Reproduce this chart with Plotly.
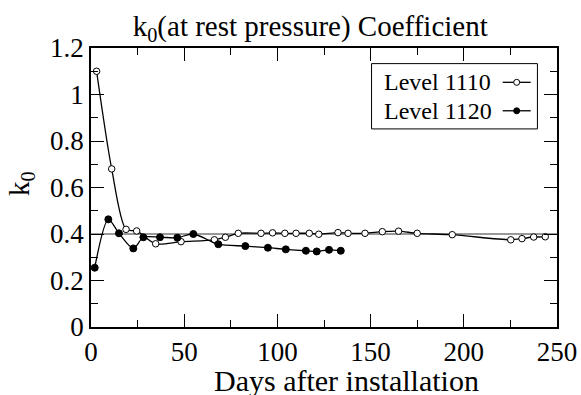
import plotly.graph_objects as go

# ---- data ----
days_1110 = [3.0, 11.1, 18.8, 24.5, 34.7, 48.3, 66.2, 72.1, 79.0, 91.2, 97.4, 104.0,
             110.0, 117.1, 122.2, 132.5, 137.9, 147.0, 156.3, 165.0, 175.0, 193.8,
             225.2, 231.2, 237.5, 243.7]
k0_1110 = [1.10, 0.68, 0.42, 0.413, 0.358, 0.367, 0.375, 0.386, 0.403, 0.403, 0.405, 0.403,
           0.403, 0.403, 0.399, 0.406, 0.403, 0.403, 0.410, 0.412, 0.403, 0.397,
           0.375, 0.380, 0.387, 0.388]

days_1120 = [2.0, 9.3, 15.0, 22.7, 28.1, 37.0, 46.3, 54.9, 68.3, 82.8, 94.9, 104.5,
             115.3, 121.1, 127.7, 134.0]
k0_1120 = [0.255, 0.463, 0.403, 0.338, 0.386, 0.386, 0.384, 0.400, 0.356, 0.348, 0.341, 0.334,
           0.328, 0.325, 0.332, 0.328]

series_names = ["Level 1110", "Level 1120"]
reference_k0 = 0.4
x_ticks = [0, 50, 100, 150, 200, 250]
y_ticks = [0, 0.2, 0.4, 0.6, 0.8, 1.0, 1.2]
y_tick_labels = ["0", "0.2", "0.4", "0.6", "0.8", "1", "1.2"]
x_title = "Days after installation"
y_title = "k<sub>0</sub>"
chart_title = "k<sub>0</sub>(at rest pressure) Coefficient"

FONT = "Liberation Serif"

fig = go.Figure()

fig.add_trace(go.Scatter(
    x=days_1110, y=k0_1110, mode="lines+markers", name=series_names[0],
    line=dict(color="black", width=1.3, shape="spline", smoothing=0.8),
    marker=dict(symbol="circle", size=6.5, color="white", line=dict(color="black", width=1)),
    showlegend=False,
))
fig.add_trace(go.Scatter(
    x=days_1120, y=k0_1120, mode="lines+markers", name=series_names[1],
    line=dict(color="black", width=1.3, shape="spline", smoothing=0.8),
    marker=dict(symbol="circle", size=7, color="black", line=dict(color="black", width=1)),
    showlegend=False,
))

# reference line at k0 = 0.4
fig.add_hline(y=reference_k0, line=dict(color="#333333", width=1), layer="below")

# ---- custom legend (symbol on the right, as in the reference) ----
box = dict(x0=0.602, x1=0.958, y0=0.71, y1=0.944)
fig.add_shape(type="rect", xref="paper", yref="paper", **box,
              line=dict(color="black", width=1), fillcolor="white", layer="above")
row_y = [0.877, 0.775]
fills = ["white", "black"]
for name, yy, fc in zip(series_names, row_y, fills):
    fig.add_annotation(x=0.624, y=yy, xref="paper", yref="paper", text=name,
                       showarrow=False, xanchor="left", yanchor="middle",
                       font=dict(family=FONT, size=24, color="black"))
    fig.add_shape(type="line", xref="paper", yref="paper", x0=0.8835, x1=0.9436,
                  y0=yy, y1=yy, line=dict(color="black", width=1.3), layer="above")
    fig.add_shape(type="circle", xref="paper", yref="paper", xsizemode="pixel",
                  ysizemode="pixel", xanchor=0.9135, yanchor=yy,
                  x0=-3, x1=3, y0=-3, y1=3, fillcolor=fc,
                  line=dict(color="black", width=1), layer="above")

# axis titles as annotations (exact placement)
fig.add_annotation(x=0.549, y=-0.192, xref="paper", yref="paper", text=x_title,
                   showarrow=False, xanchor="center", yanchor="middle",
                   font=dict(family=FONT, size=30, color="black"))
fig.add_annotation(x=-0.150, y=0.513, xref="paper", yref="paper", text=y_title,
                   showarrow=False, xanchor="center", yanchor="middle", textangle=-90,
                   font=dict(family=FONT, size=29, color="black"))

axis_common = dict(
    showline=True, linecolor="black", linewidth=1.5, mirror="ticks",
    ticks="inside", ticklen=13, tickwidth=1.2, tickcolor="black",
    showgrid=False, zeroline=False, automargin=False,
    tickfont=dict(family=FONT, size=27, color="black"),
)

fig.update_layout(
    width=581, height=395,
    margin=dict(l=91, r=24, t=48, b=68),
    paper_bgcolor="white", plot_bgcolor="white",
    font=dict(family=FONT, color="black"),
    title=dict(text=chart_title,
               x=0.534, xanchor="center", y=0.935, yanchor="middle",
               font=dict(family=FONT, size=29, color="black")),
    xaxis=dict(range=[0, 250], tickvals=x_ticks, **axis_common,
               minor=dict(ticks="inside", ticklen=7, dtick=25, tickcolor="black", tickwidth=1.2)),
    yaxis=dict(range=[0, 1.2], tickvals=y_ticks, ticktext=y_tick_labels, **axis_common,
               minor=dict(ticks="inside", ticklen=7, dtick=0.1, tickcolor="black", tickwidth=1.2)),
)

fig.write_html("out.html", config={"displayModeBar": False},
               post_script="document.body.style.margin='0px';")
